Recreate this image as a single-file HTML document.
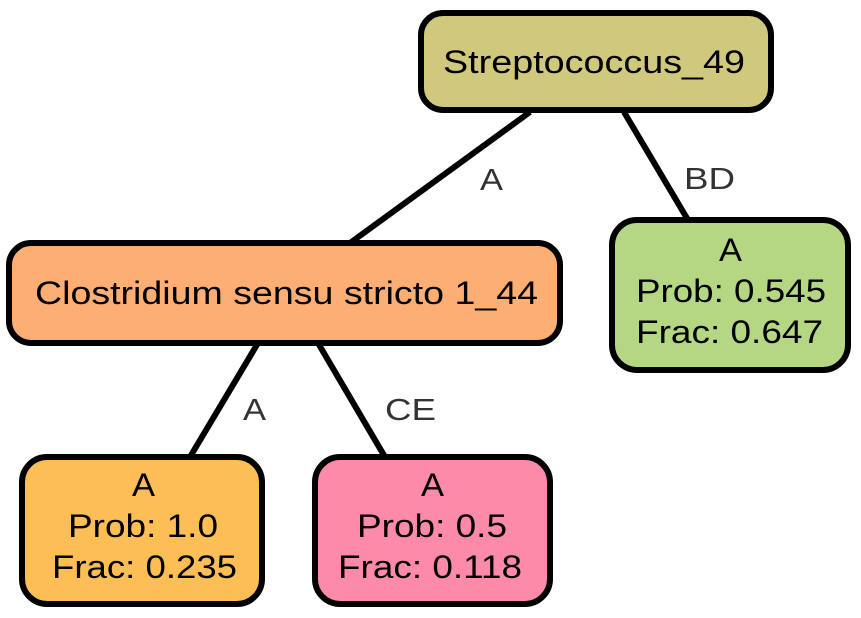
<!DOCTYPE html>
<html><head><style>body{margin:0;background:#fff}</style></head><body>
<svg width="861" height="613" viewBox="0 0 861 613" xmlns="http://www.w3.org/2000/svg" font-family="Liberation Sans, sans-serif">
<g stroke="#000" stroke-width="6" fill="none">
<line x1="530" y1="112" x2="350" y2="243"/>
<line x1="624" y1="112" x2="688" y2="220"/>
<line x1="258" y1="343" x2="190" y2="457"/>
<line x1="318" y1="343" x2="385" y2="457"/>
</g>
<g font-size="31" fill="#333">
<text x="480" y="190" textLength="23" lengthAdjust="spacingAndGlyphs">A</text>
<text x="684" y="189" textLength="51" lengthAdjust="spacingAndGlyphs">BD</text>
<text x="243" y="420" textLength="23" lengthAdjust="spacingAndGlyphs">A</text>
<text x="385" y="420" textLength="51" lengthAdjust="spacingAndGlyphs">CE</text>
</g>
<g stroke="#000" stroke-width="6">
<rect x="421" y="13" width="350" height="97" rx="22" fill="#cfc87d"/>
<rect x="9" y="243" width="551" height="100" rx="22" fill="#fdae72"/>
<rect x="612" y="220" width="236" height="150" rx="25" fill="#b5d682"/>
<rect x="22" y="457" width="240" height="147" rx="25" fill="#fdbe56"/>
<rect x="315" y="457" width="235" height="147" rx="25" fill="#fd8aa9"/>
</g>
<g font-size="32" fill="#000">
<text x="443" y="73" textLength="302" lengthAdjust="spacingAndGlyphs">Streptococcus_49</text>
<text x="35" y="304" textLength="503" lengthAdjust="spacingAndGlyphs">Clostridium sensu stricto 1_44</text>
<text x="719" y="261" textLength="23" lengthAdjust="spacingAndGlyphs">A</text>
<text x="636" y="302" textLength="190" lengthAdjust="spacingAndGlyphs">Prob: 0.545</text>
<text x="636" y="343" textLength="187" lengthAdjust="spacingAndGlyphs">Frac: 0.647</text>
<text x="132" y="496" textLength="23" lengthAdjust="spacingAndGlyphs">A</text>
<text x="68" y="537" textLength="150" lengthAdjust="spacingAndGlyphs">Prob: 1.0</text>
<text x="52" y="578" textLength="185" lengthAdjust="spacingAndGlyphs">Frac: 0.235</text>
<text x="421" y="496" textLength="23" lengthAdjust="spacingAndGlyphs">A</text>
<text x="357" y="537" textLength="150" lengthAdjust="spacingAndGlyphs">Prob: 0.5</text>
<text x="338" y="578" textLength="184" lengthAdjust="spacingAndGlyphs">Frac: 0.118</text>
</g>
</svg>
</body></html>
